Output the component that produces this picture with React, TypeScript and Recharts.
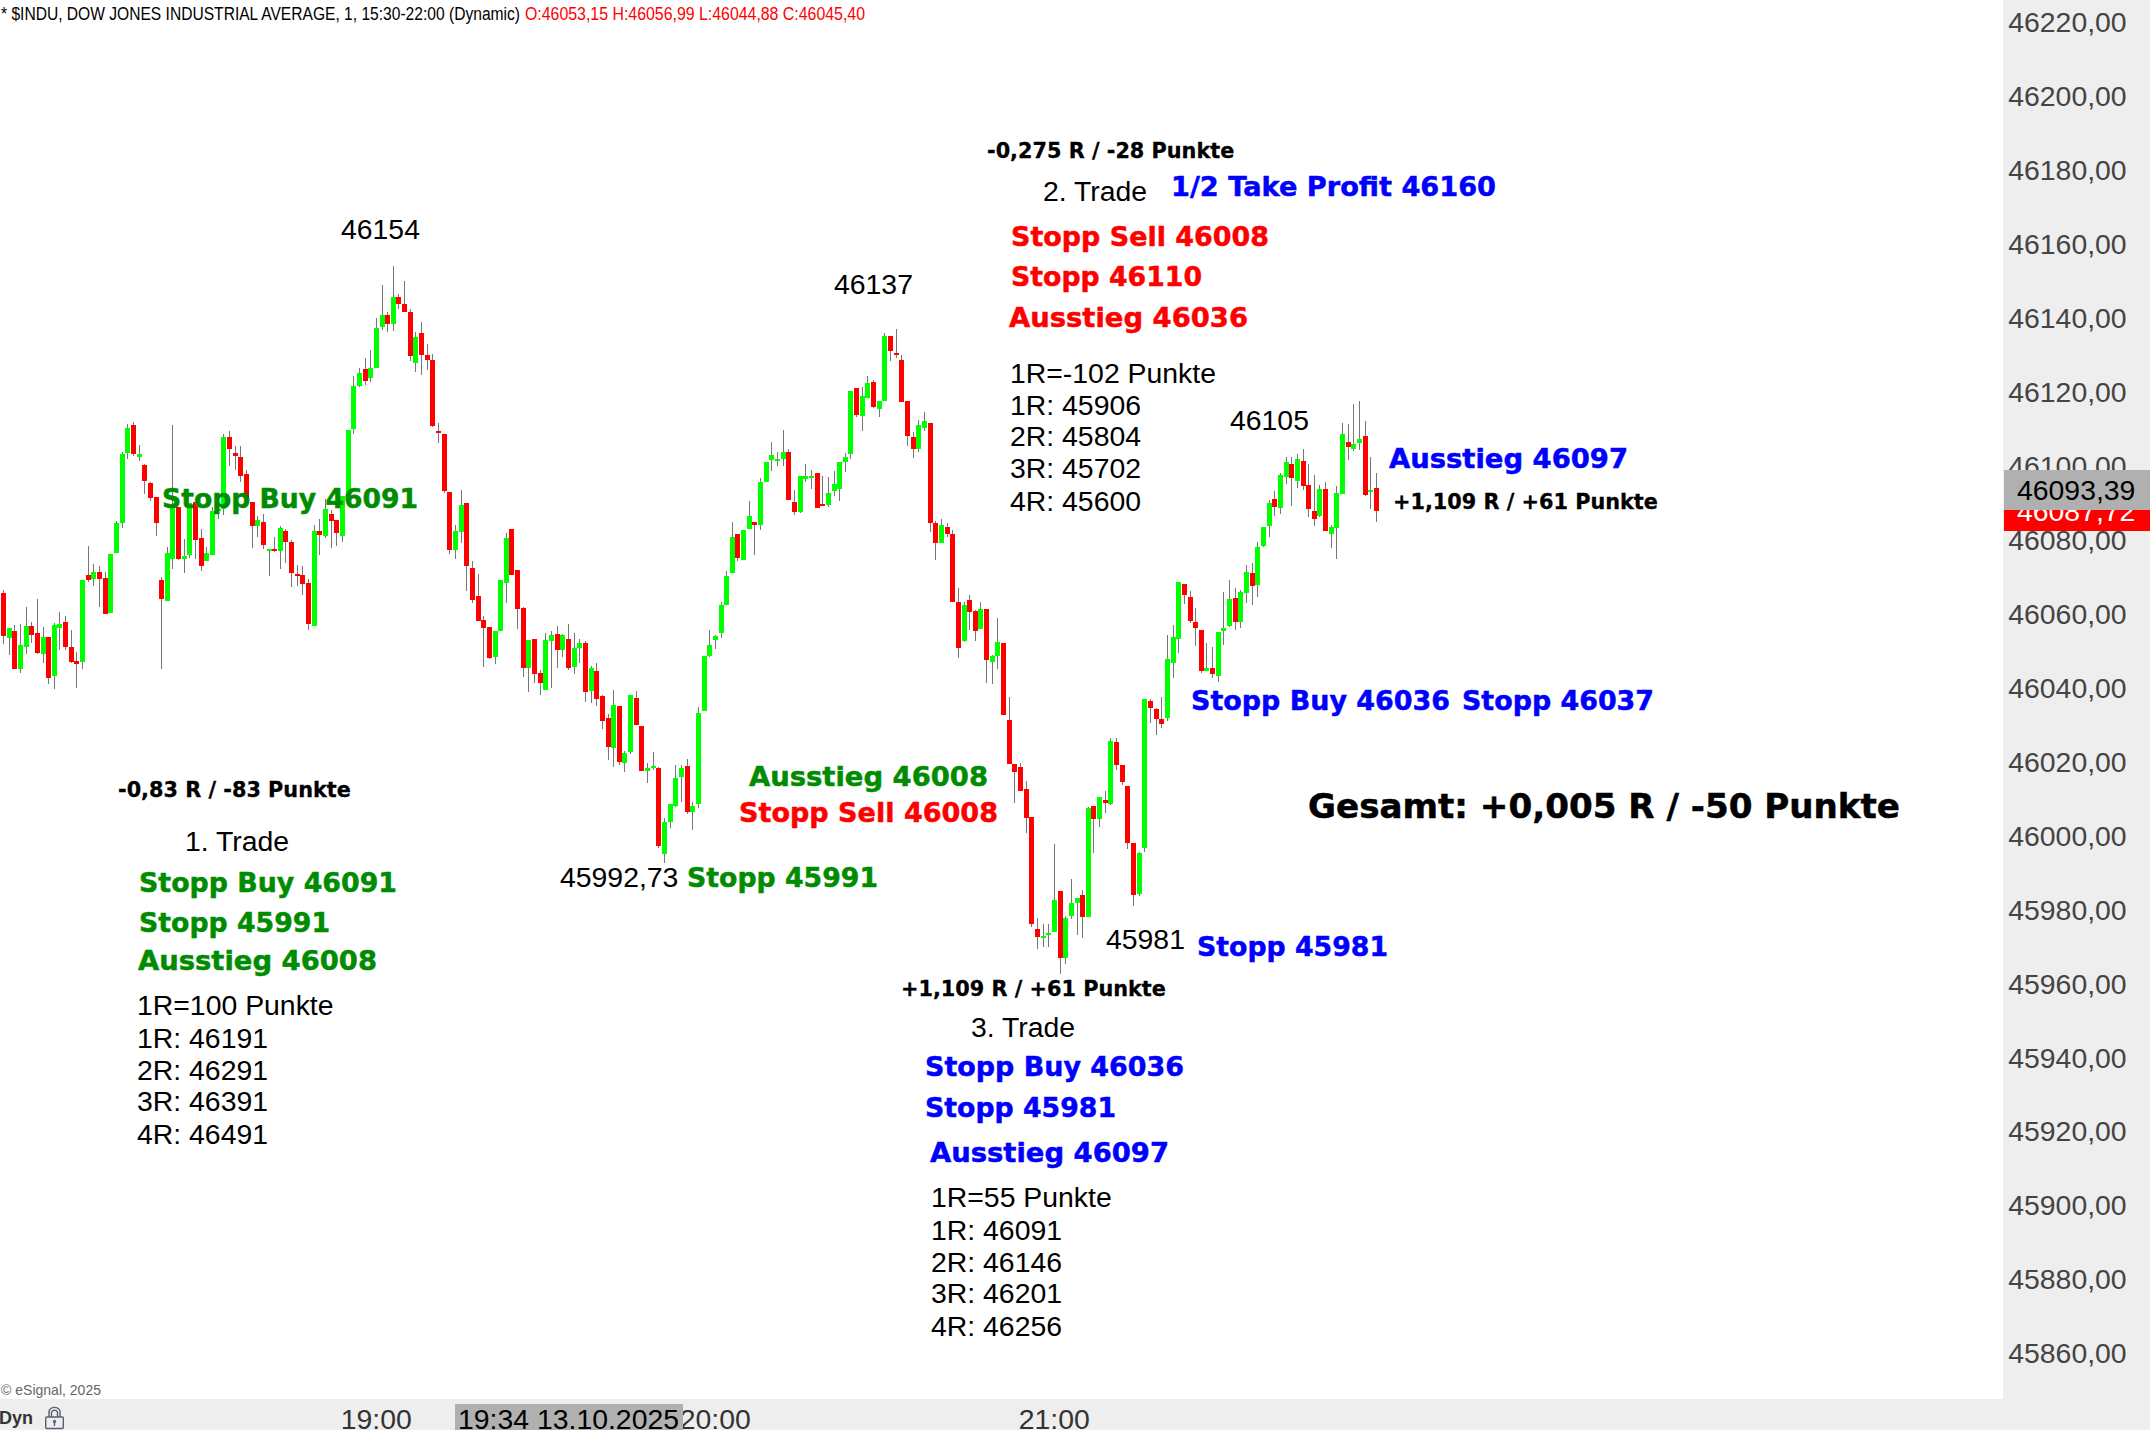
import React from "react";
import { ComposedChart, Bar, XAxis, YAxis } from "recharts";

const highs = [
46066.4,46056.1,46056.9,46057.2,46061.8,46057.8,46064.0,46056.4,46053.7,46057.5,
46060.5,46059.4,46055.6,46049.6,46069.1,46078.3,46073.4,46072.9,46071.3,46076.1,
46085.1,46103.7,46111.3,46111.8,46105.6,46100.5,46095.6,46091.6,46069.9,46078.0,
46111.0,46088.9,46080.2,46089.9,46090.2,46082.9,46078.0,46088.9,46089.9,46108.6,
46109.4,46105.3,46105.3,46098.9,46090.2,46086.4,46087.0,46077.5,46080.7,46083.7,
46082.9,46079.9,46073.2,46072.9,46069.4,46084.0,46085.6,46091.0,46088.0,46085.3,
46091.8,46109.7,46124.3,46126.4,46129.1,46131.3,46140.0,46148.9,46141.6,46154.0,
46146.5,46150.0,46142.4,46136.2,46138.9,46132.9,46130.2,46111.6,46108.6,46092.9,
46084.0,46093.5,46089.9,46074.3,46070.7,46059.4,46056.4,46055.3,46069.1,46081.8,
46082.9,46071.8,46061.8,46052.9,46053.2,46044.8,46054.8,46055.3,46056.7,46054.5,
46057.2,46054.8,46053.2,46052.6,46045.9,46046.7,46038.0,46032.9,46039.4,46035.0,
46022.9,46038.0,46039.1,46029.6,46019.6,46022.6,46018.5,46004.8,46008.5,46019.1,
46019.1,46020.7,46009.1,46034.8,46048.6,46055.6,46054.2,46063.2,46071.5,46084.8,
46081.5,46082.6,46090.5,46084.8,46096.7,46101.0,46106.4,46103.7,46109.7,46104.5,
46093.4,46097.2,46100.5,46098.9,46098.0,46097.2,46097.0,46098.6,46101.0,46103.5,
46120.2,46121.0,46121.3,46124.3,46123.2,46117.5,46135.9,46135.1,46137.0,46130.0,
46117.5,46109.1,46112.4,46114.5,46111.6,46085.1,46085.6,46084.5,46082.6,46066.9,
46063.2,46065.1,46061.0,46063.2,46061.3,46048.8,46058.8,46052.1,46037.5,46019.4,
46019.6,46014.8,46005.0,45977.7,45976.1,45976.1,45997.7,45985.0,45978.3,45988.3,
45983.1,45985.3,46007.7,46008.0,46010.4,46012.1,46026.4,46026.4,46019.1,46013.4,
45998.0,45995.6,46036.9,46036.9,46034.4,46037.5,46054.2,46056.9,46068.6,46068.0,
46066.1,46061.5,46055.6,46052.1,46051.0,46055.1,46065.9,46069.1,46067.0,46066.4,
46073.2,46073.7,46079.4,46083.4,46090.7,46093.2,46098.0,46102.4,46102.4,46103.2,
46104.5,46100.5,46097.5,46094.8,46095.6,46084.0,46094.5,46111.6,46111.3,46116.7,
46117.5,46112.1,46102.4,46098.0];

const lows = [
46051.8,46048.8,46045.0,46044.0,46049.1,46052.1,46049.1,46046.7,46041.0,46039.6,
46050.2,46050.2,46046.7,46039.9,46045.0,46068.6,46067.5,46061.8,46059.9,46060.2,
46076.4,46083.2,46101.8,46102.6,46101.3,46092.4,46090.5,46081.0,46045.0,46063.4,
46072.1,46074.5,46071.0,46075.1,46074.8,46071.5,46074.3,46075.9,46085.6,46086.7,
46099.9,46098.9,46095.6,46090.5,46077.8,46080.7,46077.5,46070.2,46076.7,46072.1,
46073.7,46067.2,46067.5,46065.1,46055.6,46056.7,46075.9,46080.5,46077.8,46078.3,
46079.4,46091.6,46108.6,46121.3,46121.8,46122.7,46126.4,46136.7,46136.2,46136.4,
46142.4,46141.6,46128.3,46125.4,46124.5,46125.9,46110.5,46106.2,46092.6,46076.1,
46074.8,46079.1,46066.1,46062.9,46058.0,46045.6,46047.7,46046.4,46055.3,46062.9,
46070.5,46055.9,46042.9,46038.8,46041.3,46038.0,46039.4,46039.9,46045.3,46048.3,
46044.8,46043.7,46046.7,46036.0,46035.9,46035.0,46028.8,46020.4,46018.5,46019.1,
46017.2,46022.1,46029.9,46017.5,46014.2,46017.7,45996.6,45992.73,46002.1,46007.7,
46009.1,46005.8,46001.5,46007.5,46033.7,46048.3,46050.4,46053.4,46062.3,46071.0,
46074.2,46074.5,46082.9,46075.9,46082.6,46095.6,46098.6,46099.9,46099.9,46090.7,
46086.7,46087.2,46095.6,46093.7,46088.6,46089.1,46088.8,46091.8,46090.5,46098.3,
46101.8,46113.2,46109.4,46118.3,46115.6,46113.2,46117.5,46128.3,46129.1,46117.2,
46105.3,46102.1,46103.7,46109.4,46082.1,46074.5,46079.1,46080.7,46063.2,46048.0,
46052.3,46055.6,46052.6,46055.9,46041.3,46041.0,46045.0,46032.6,46019.4,46008.8,
46012.1,46000.7,45975.3,45969.3,45969.9,45969.9,45973.9,45962.6,45965.3,45977.4,
45973.1,45972.3,45978.0,45995.3,46002.3,46006.1,46008.3,46017.7,46013.7,45996.4,
45981.0,45983.7,45995.6,46030.4,46027.2,46029.1,46031.0,46042.6,46049.4,46062.6,
46057.5,46051.3,46044.0,46044.5,46042.6,46041.5,46051.5,46056.4,46055.6,46056.1,
46062.9,46062.4,46064.5,46078.0,46080.7,46086.4,46087.0,46095.1,46089.1,46094.0,
46093.4,46086.1,46083.7,46086.1,46082.4,46077.8,46074.8,46092.4,46101.6,46104.0,
46104.3,46091.8,46088.3,46084.8];

const opens = [
46065.6,46053.5,46055.3,46045.0,46051.0,46056.7,46054.8,46049.1,46053.7,46043.2,
46056.1,46057.8,46051.0,46047.2,46046.9,46070.5,46069.4,46071.3,46069.7,46060.2,
46076.4,46084.5,46103.5,46111.0,46102.4,46100.2,46095.3,46091.6,46069.1,46063.4,
46074.8,46088.9,46074.8,46075.9,46090.2,46080.5,46074.3,46075.9,46087.8,46088.3,
46107.8,46103.5,46102.4,46097.8,46090.2,46083.7,46084.8,46077.0,46077.5,46077.0,
46082.4,46079.4,46070.7,46070.5,46068.3,46056.7,46082.4,46081.0,46087.0,46085.3,
46081.0,46091.6,46109.9,46121.6,46126.2,46123.7,46126.4,46137.5,46140.8,46138.3,
46145.6,46143.7,46141.6,46127.8,46135.9,46130.0,46128.6,46109.4,46108.6,46092.9,
46077.2,46082.1,46089.9,46072.4,46064.8,46058.3,46056.4,46048.3,46055.3,46068.3,
46082.9,46071.8,46061.5,46045.3,46053.2,46044.0,46039.4,46052.6,46054.5,46050.2,
46053.2,46045.6,46050.7,46052.1,46039.1,46044.5,46037.7,46031.8,46023.7,46035.0,
46019.6,46022.6,46037.2,46029.6,46017.5,46018.3,46018.3,45995.0,46003.7,46008.0,
46015.8,46018.8,46006.4,46008.5,46033.7,46048.6,46052.9,46054.8,46062.3,46071.0,
46081.5,46074.5,46082.9,46084.8,46084.0,46095.6,46101.6,46101.3,46101.8,46103.7,
46090.2,46087.5,46096.4,46096.7,46098.0,46089.7,46089.4,46093.2,46093.7,46101.0,
46103.2,46121.0,46113.5,46118.3,46122.7,46115.3,46117.5,46135.1,46130.5,46128.6,
46117.5,46107.8,46104.5,46110.2,46111.6,46084.5,46079.1,46083.4,46081.5,46063.2,
46052.6,46063.7,46060.7,46055.9,46061.3,46046.9,46048.6,46052.1,46031.3,46019.4,
46018.5,46012.6,46005.0,45974.7,45972.3,45973.1,45973.9,45985.0,45966.9,45978.3,
45981.8,45983.9,45978.0,46008.0,46004.5,46009.6,46008.5,46025.3,46019.1,46013.4,
45998.0,45984.2,45996.6,46036.4,46034.2,46031.5,46031.8,46046.7,46053.2,46068.0,
46064.5,46057.8,46055.6,46044.5,46045.3,46043.2,46055.3,46056.7,46064.2,46057.8,
46065.6,46071.0,46067.8,46078.3,46083.7,46091.0,46088.6,46097.0,46100.5,46095.9,
46101.3,46094.8,46087.8,46086.4,46093.7,46081.6,46083.2,46092.4,46106.4,46104.5,
46106.2,46108.1,46092.9,46094.0];

const closes = [
46054.1,46056.1,46045.0,46051.5,46056.7,46054.2,46049.4,46053.7,46042.6,46056.9,
46057.2,46051.0,46046.9,46046.4,46069.1,46069.1,46071.3,46069.4,46059.9,46076.1,
46084.5,46103.2,46110.2,46103.2,46103.2,46095.9,46091.3,46084.5,46064.0,46076.4,
46088.5,46074.8,46075.6,46089.9,46079.9,46072.9,46076.4,46087.8,46088.3,46107.8,
46104.5,46102.6,46097.2,46091.3,46083.7,46085.3,46078.6,46077.5,46077.0,46083.2,
46079.4,46071.0,46070.2,46068.0,46057.2,46082.4,46081.3,46088.3,46085.1,46081.8,
46091.8,46109.7,46121.6,46125.1,46122.9,46126.4,46137.3,46140.8,46138.3,46145.6,
46143.7,46141.6,46129.7,46134.8,46130.0,46128.6,46110.8,46108.9,46093.2,46077.2,
46082.4,46089.4,46072.9,46063.7,46058.0,46056.1,46048.0,46055.3,46069.1,46080.5,
46070.5,46061.3,46045.3,46052.9,46043.7,46041.3,46052.9,46054.2,46050.2,46054.2,
46045.3,46050.7,46052.1,46038.8,46045.3,46036.9,46031.0,46024.0,46035.3,46019.9,
46022.3,46038.0,46029.9,46017.5,46018.3,46018.8,45997.2,46003.7,46008.5,46015.6,
46018.3,46006.4,46008.0,46033.2,46048.6,46051.5,46054.0,46062.3,46070.2,46080.7,
46075.1,46082.6,46086.4,46084.0,46095.6,46101.0,46102.9,46101.8,46103.7,46090.7,
46087.5,46097.2,46097.2,46097.2,46088.6,46089.1,46092.6,46095.1,46101.0,46102.4,
46120.2,46113.7,46118.9,46122.4,46115.9,46117.5,46135.1,46131.0,46130.0,46117.2,
46108.0,46104.5,46111.0,46112.1,46084.5,46079.1,46084.0,46081.5,46063.2,46050.7,
46062.3,46060.5,46055.3,46061.3,46047.5,46048.6,46052.3,46032.6,46019.4,46017.2,
46012.1,46004.8,45976.1,45972.6,45972.8,45973.7,45982.6,45966.9,45977.7,45981.8,
45983.1,45978.0,46007.5,46004.5,46010.4,46008.8,46025.6,46019.1,46014.5,45998.0,
45983.9,45995.3,46036.9,46034.5,46031.5,46030.2,46047.8,46053.7,46068.6,46065.1,
46058.0,46056.1,46044.5,46045.3,46043.7,46055.1,46056.1,46064.0,46057.8,46065.9,
46071.3,46067.5,46078.0,46083.4,46089.9,46088.9,46097.5,46101.0,46096.7,46101.8,
46094.5,46088.3,46085.6,46093.7,46082.4,46083.4,46092.6,46108.6,46105.1,46105.9,
46107.2,46092.1,46093.4,46087.72];

const priceTicks = [46220,46200,46180,46160,46140,46120,46100,46080,46060,46040,46020,46000,45980,45960,45940,45920,45900,45880,45860];
const timeTicks = ["19:00", "20:00", "21:00"];
const FIRST_MINUTE = 17 * 60 + 54;
const SLOT_COUNT = 355;

const label = (m: number) => `${Math.floor(m / 60)}:${String(m % 60).padStart(2, "0")}`;
const rows = Array.from({ length: SLOT_COUNT }, (_, i) => ({
  time: label(FIRST_MINUTE + i),
  range: i < highs.length ? [lows[i], highs[i]] : null,
  open: opens[i],
  close: closes[i],
}));

const SANS = "'Liberation Sans', Arial, sans-serif";
const HEAVY = "'DejaVu Sans', Verdana, sans-serif";
const GREEN = "#008c00";
const BLUE = "#0000ff";
const RED = "#ff0000";

function Candle(props: any) {
  const { x, y, width, height, payload } = props;
  if (!payload || payload.range == null || !height) return null;
  const [lo, hi] = payload.range;
  const perPoint = height / (hi - lo);
  const top = Math.max(payload.open, payload.close);
  const bottom = Math.min(payload.open, payload.close);
  const bodyTop = Math.round(y + (hi - top) * perPoint);
  const bodyH = Math.max(2, Math.round(y + (hi - bottom) * perPoint) - bodyTop);
  const left = Math.round(x + width / 2 - 2.5);
  const up = payload.close >= payload.open;
  return (
    <g shapeRendering="crispEdges">
      <rect x={left + 2} y={Math.round(y)} width={1} height={Math.max(1, Math.round(height))} fill="#777777" />
      <rect x={left} y={bodyTop} width={5} height={bodyH} fill={up ? "#00ff00" : "#ff0000"} />
    </g>
  );
}

const Reg = ({ x, y, children, size = 28.4, fill = "#000" }: any) => (
  <text x={x} y={y - 1} fontFamily={SANS} fontSize={size} fill={fill} dominantBaseline="central">{children}</text>
);
const Big = ({ x, y, w, children, fill = "#000", size = 27 }: any) => (
  <text x={x} y={y - 0.5} fontFamily={HEAVY} fontWeight="bold" fontSize={size} fill={fill} stroke={fill} strokeWidth={0.5} textLength={w} lengthAdjust="spacingAndGlyphs" dominantBaseline="central">{children}</text>
);
const Small = ({ x, y, children }: any) => (
  <text x={x} y={y + 1} fontFamily={HEAVY} fontWeight="bold" fontSize={20.8} fill="#000" stroke="#000" strokeWidth={0.3} dominantBaseline="central">{children}</text>
);

function Overlay() {
  return (
    <svg width={2150} height={1430} style={{ position: "absolute", left: 0, top: 0 }}>
      <text x={1} y={14} fontFamily={SANS} fontSize={18} fill="#000" textLength={519} lengthAdjust="spacingAndGlyphs" dominantBaseline="central">* $INDU, DOW JONES INDUSTRIAL AVERAGE, 1, 15:30-22:00 (Dynamic)</text>
      <text x={525} y={14} fontFamily={SANS} fontSize={18} fill={RED} textLength={340} lengthAdjust="spacingAndGlyphs" dominantBaseline="central">O:46053,15 H:46056,99 L:46044,88 C:46045,40</text>

      <Reg x={341} y={230}>46154</Reg>
      <Reg x={834} y={285}>46137</Reg>
      <Small x={987} y={150}>-0,275 R / -28 Punkte</Small>
      <Reg x={1043} y={192}>2. Trade</Reg>
      <Big x={1171} y={187} w={325} fill={BLUE}>1/2 Take Profit 46160</Big>
      <Big x={1011} y={237} w={258} fill={RED}>Stopp Sell 46008</Big>
      <Big x={1011} y={277} w={191} fill={RED}>Stopp 46110</Big>
      <Big x={1009} y={318} w={239} fill={RED}>Ausstieg 46036</Big>
      <Reg x={1010} y={374}>1R=-102 Punkte</Reg>
      <Reg x={1010} y={406}>1R: 45906</Reg>
      <Reg x={1010} y={437}>2R: 45804</Reg>
      <Reg x={1010} y={469}>3R: 45702</Reg>
      <Reg x={1010} y={502}>4R: 45600</Reg>
      <Reg x={1230} y={421}>46105</Reg>
      <Big x={1389} y={459} w={239} fill={BLUE}>Ausstieg 46097</Big>
      <Small x={1393} y={501}>+1,109 R / +61 Punkte</Small>

      <Big x={162} y={499} w={256} fill={GREEN}>Stopp Buy 46091</Big>
      <Big x={1191} y={701} w={259} fill={BLUE}>Stopp Buy 46036</Big>
      <Big x={1462} y={701} w={192} fill={BLUE}>Stopp 46037</Big>
      <Big x={1308} y={806} w={592} size={34.1}>Gesamt: +0,005 R / -50 Punkte</Big>
      <Big x={749} y={777} w={239} fill={GREEN}>Ausstieg 46008</Big>
      <Big x={739} y={813} w={259} fill={RED}>Stopp Sell 46008</Big>
      <Reg x={560} y={878}>45992,73</Reg>
      <Big x={687} y={878} w={191} fill={GREEN}>Stopp 45991</Big>

      <Small x={118} y={789}>-0,83 R / -83 Punkte</Small>
      <Reg x={185} y={842}>1. Trade</Reg>
      <Big x={139} y={883} w={258} fill={GREEN}>Stopp Buy 46091</Big>
      <Big x={139} y={923} w={191} fill={GREEN}>Stopp 45991</Big>
      <Big x={138} y={961} w={239} fill={GREEN}>Ausstieg 46008</Big>
      <Reg x={137} y={1006}>1R=100 Punkte</Reg>
      <Reg x={137} y={1039}>1R: 46191</Reg>
      <Reg x={137} y={1071}>2R: 46291</Reg>
      <Reg x={137} y={1102}>3R: 46391</Reg>
      <Reg x={137} y={1135}>4R: 46491</Reg>

      <Reg x={1106} y={940}>45981</Reg>
      <Big x={1197} y={947} w={191} fill={BLUE}>Stopp 45981</Big>
      <Small x={901} y={988}>+1,109 R / +61 Punkte</Small>
      <Reg x={971} y={1028}>3. Trade</Reg>
      <Big x={925} y={1067} w={259} fill={BLUE}>Stopp Buy 46036</Big>
      <Big x={925} y={1108} w={191} fill={BLUE}>Stopp 45981</Big>
      <Big x={930} y={1153} w={239} fill={BLUE}>Ausstieg 46097</Big>
      <Reg x={931} y={1198}>1R=55 Punkte</Reg>
      <Reg x={931} y={1231}>1R: 46091</Reg>
      <Reg x={931} y={1263}>2R: 46146</Reg>
      <Reg x={931} y={1294}>3R: 46201</Reg>
      <Reg x={931} y={1327}>4R: 46256</Reg>

      <text x={1} y={1389} fontFamily={SANS} fontSize={15} fill="#666" textLength={100} lengthAdjust="spacingAndGlyphs" dominantBaseline="central">© eSignal, 2025</text>
      <text x={-1} y={1418} fontFamily={SANS} fontWeight="bold" fontSize={18} fill="#333" dominantBaseline="central">Dyn</text>
      <g fill="none" stroke="#5a5f70" strokeWidth={1.4}>
        <path d="M49 1417 v-6 a6 6 0 0 1 11 0 v6" />
        <path d="M51.5 1417 v-5 a3.5 3.5 0 0 1 6 0 v5" />
        <rect x={45.7} y={1417} width={17.6} height={11.5} rx={1} />
        <path d="M54.5 1422 v4" />
        <circle cx={54.5} cy={1421.5} r={1} />
      </g>

      <rect x={455} y={1404} width={228} height={26} fill="#b0b0b0" />
      <text x={458} y={1419} fontFamily={SANS} fontSize={28.4} fill="#000" dominantBaseline="central">19:34 13.10.2025</text>

      <rect x={2004} y={490} width={146} height={41} fill="#ff0000" />
      <text x={2017} y={511} fontFamily={SANS} fontSize={28.4} fill="#fff" dominantBaseline="central">46087,72</text>
      <rect x={2004} y={470} width={146} height={40} fill="#b0b0b0" />
      <text x={2017} y={490} fontFamily={SANS} fontSize={28.4} fill="#000" dominantBaseline="central">46093,39</text>
    </svg>
  );
}

export default function App() {
  return (
    <div style={{ position: "absolute", left: 0, top: 0, width: 2150, height: 1430, overflow: "hidden", background: "#fff" }}>
      <div style={{ position: "absolute", left: 2003, top: 0, width: 147, height: 1430, background: "#eeeeee" }} />
      <div style={{ position: "absolute", left: 0, top: 1399, width: 2150, height: 31, background: "#eeeeee" }} />
      <div style={{ position: "absolute", left: 0, top: 0 }}>
        <ComposedChart width={2150} height={1430} data={rows} barCategoryGap={0} barGap={0} margin={{ top: 0, left: 0.5, right: 0, bottom: 0 }}>
          <XAxis dataKey="time" ticks={timeTicks} interval={0} height={31} tickSize={0} tickMargin={10} axisLine={false} tickLine={false} tick={{ fontFamily: SANS, fontSize: 28.4, fill: "#333" }} />
          <YAxis orientation="right" width={143.75} domain={[45847.64, 46225.95]} allowDataOverflow ticks={priceTicks} interval={0} tickSize={0} tickMargin={2} axisLine={false} tickLine={false} tick={{ fontFamily: SANS, fontSize: 28.4, fill: "#444" }} tickFormatter={(v: number) => v.toFixed(2).replace(".", ",")} />
          <Bar dataKey="range" isAnimationActive={false} shape={Candle} />
        </ComposedChart>
      </div>
      <Overlay />
    </div>
  );
}
